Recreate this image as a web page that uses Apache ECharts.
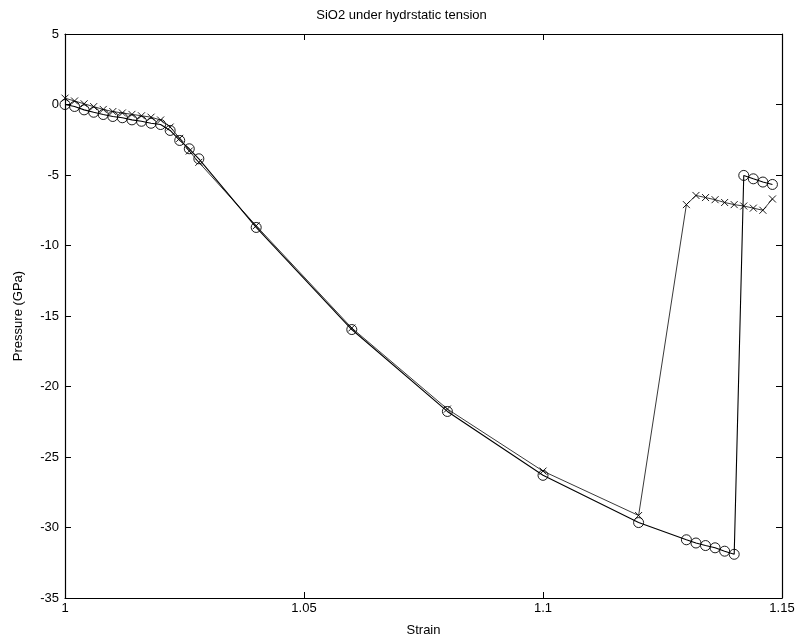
<!DOCTYPE html>
<html>
<head>
<meta charset="utf-8">
<script src="https://cdn.jsdelivr.net/npm/echarts@6/dist/echarts.min.js"></script>
<style>html,body{margin:0;padding:0;background:#fff;}#c{width:803px;height:642px;}</style>
</head>
<body>
<div id="c"></div>
<script>
const strainCircle = [1.000,1.002,1.004,1.006,1.008,1.010,1.012,1.014,1.016,1.018,1.020,1.022,1.024,1.026,1.028,1.04,1.06,1.08,1.10,1.12,1.130,1.132,1.134,1.136,1.138,1.140,1.142,1.144,1.146,1.148];
const pressureCircle = [0,-0.14,-0.38,-0.55,-0.71,-0.85,-0.94,-1.09,-1.19,-1.33,-1.42,-1.84,-2.55,-3.14,-3.85,-8.72,-15.96,-21.77,-26.3,-29.65,-30.87,-31.1,-31.28,-31.44,-31.68,-31.9,-5.03,-5.27,-5.5,-5.67];
const strainCross = [1.000,1.002,1.004,1.006,1.008,1.010,1.012,1.014,1.016,1.018,1.020,1.022,1.024,1.026,1.028,1.04,1.06,1.08,1.10,1.12,1.130,1.132,1.134,1.136,1.138,1.140,1.142,1.144,1.146,1.148];
const pressureCross = [0.45,0.25,0.05,-0.15,-0.35,-0.5,-0.6,-0.7,-0.8,-0.9,-1.1,-1.6,-2.4,-3.3,-4.1,-8.6,-15.85,-21.6,-26.0,-29.15,-7.1,-6.45,-6.6,-6.75,-6.95,-7.1,-7.2,-7.35,-7.5,-6.7];
const xTicks = [1, 1.05, 1.1, 1.15];
const yTicks = [5, 0, -5, -10, -15, -20, -25, -30, -35];

const pair = (xs, ys) => xs.map((x, i) => [x, ys[i]]);
const font = 'Liberation Sans';
const chart = echarts.init(document.getElementById('c'));
const axisLine = { show: true, onZero: false, lineStyle: { color: '#000', width: 1.2 } };
const tick = { show: true, inside: true, length: 6, lineStyle: { color: '#000', width: 1 } };
chart.setOption({
  backgroundColor: '#fff',
  animation: false,
  title: {
    text: 'SiO2 under hydrstatic tension',
    left: 'center', top: 4,
    textStyle: { fontFamily: font, fontSize: 13, fontWeight: 'normal', color: '#000' }
  },
  grid: { left: 65, right: 21, top: 34, bottom: 44 },
  xAxis: [{
    type: 'value', min: 1, max: 1.15, interval: 0.05,
    name: 'Strain', nameLocation: 'middle', nameGap: 26,
    nameTextStyle: { fontFamily: font, fontSize: 13, color: '#000' },
    axisLine, axisTick: tick, splitLine: { show: false },
    axisLabel: { fontFamily: font, fontSize: 13, color: '#000', margin: 4,
      formatter: v => String(parseFloat(v.toFixed(2))) }
  }, {
    type: 'value', position: 'top', min: 1, max: 1.15, interval: 0.05,
    axisLine, axisTick: tick, axisLabel: { show: false }, splitLine: { show: false }
  }],
  yAxis: [{
    type: 'value', min: -35, max: 5, interval: 5,
    name: 'Pressure (GPa)', nameLocation: 'middle', nameGap: 40, nameRotate: 90,
    nameTextStyle: { fontFamily: font, fontSize: 13, color: '#000' },
    axisLine, axisTick: tick, splitLine: { show: false },
    axisLabel: { fontFamily: font, fontSize: 13, color: '#000', margin: 6 }
  }, {
    type: 'value', position: 'right', min: -35, max: 5, interval: 5,
    axisLine, axisTick: tick, axisLabel: { show: false }, splitLine: { show: false }
  }],
  series: [{
    type: 'line', data: pair(strainCross, pressureCross),
    symbol: 'path://M0,0L10,10M10,0L0,10', symbolSize: 7,
    itemStyle: { color: 'rgba(0,0,0,0)', borderColor: '#000', borderWidth: 0.9 },
    lineStyle: { color: '#222', width: 0.9 }
  }, {
    type: 'line', data: pair(strainCircle, pressureCircle),
    symbol: 'circle', symbolSize: 10,
    itemStyle: { color: 'rgba(0,0,0,0)', borderColor: '#000', borderWidth: 0.9 },
    lineStyle: { color: '#000', width: 1.1 }
  }]
});
</script>
</body>
</html>
